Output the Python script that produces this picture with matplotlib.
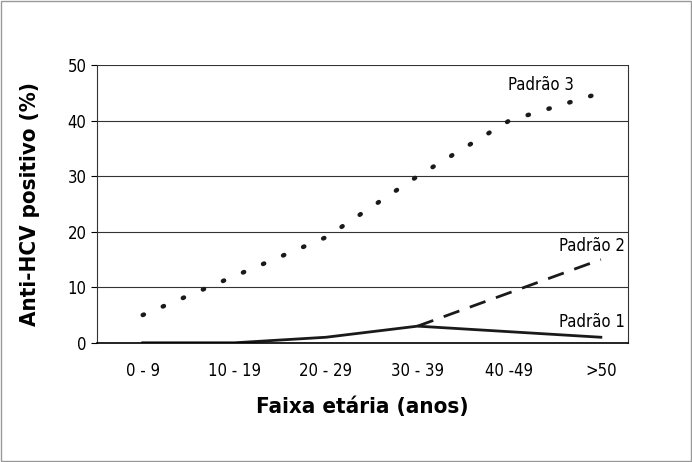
import matplotlib
matplotlib.use("Agg")
import matplotlib.pyplot as plt

categories = ["0 - 9", "10 - 19", "20 - 29", "30 - 39", "40 -49", ">50"]
p1 = [0, 0, 1, 3, 2, 1]
p2_x = [3, 4, 5]
p2 = [3, 9, 15]
p3 = [5, 12, 19, 30, 40, 45]

fs = dict(family="DejaVu Sans", stretch="condensed")
fig = plt.figure(figsize=(6.92, 4.62), dpi=100)
fig.patches.append(plt.Rectangle((0.002, 0.002), 0.996, 0.996, transform=fig.transFigure,
                                 fill=False, edgecolor="#999999", lw=1))
ax = fig.add_axes([0.140, 0.258, 0.768, 0.601])
x = range(len(categories))
ax.plot(x, p1, color="#1a1a1a", lw=2)
ax.plot(p2_x, p2, color="#1a1a1a", lw=2, dashes=(6, 4))
ax.plot(x, p3, color="#1a1a1a", lw=3.2, linestyle=(0, (0.3, 4.6)), dash_capstyle="round")
ax.set_xlim(-0.5, 5.3)
ax.set_ylim(0, 50)
ax.set_yticks(range(0, 51, 10))
ax.set_xticks(list(x))
ax.set_xticklabels(categories)
ax.yaxis.grid(True, color="#333333", lw=0.8)
ax.set_axisbelow(True)
for s in ["left", "right", "top"]:
    ax.spines[s].set_linewidth(0.8)
    ax.spines[s].set_color("#333333")
ax.spines["top"].set_visible(False)
ax.spines["bottom"].set_linewidth(1.2)
ax.tick_params(axis="x", length=0, pad=14)
ax.tick_params(axis="y", length=4, width=0.8)
for lab in ax.get_xticklabels() + ax.get_yticklabels():
    lab.set_fontsize(12)
    lab.set_fontstretch("condensed")
ax.set_xlabel("Faixa etária (anos)", fontsize=16, fontweight="bold", labelpad=12, **fs)
ax.set_ylabel("Anti-HCV positivo (%)", fontsize=16, fontweight="bold", labelpad=20, **fs)
ax.text(4.35, 46.5, "Padrão 3", fontsize=12, ha="center", va="center", **fs)
ax.text(4.9, 17.5, "Padrão 2", fontsize=12, ha="center", va="center", **fs)
ax.text(4.9, 3.8, "Padrão 1", fontsize=12, ha="center", va="center", **fs)
fig.savefig("out.png", dpi=100)
